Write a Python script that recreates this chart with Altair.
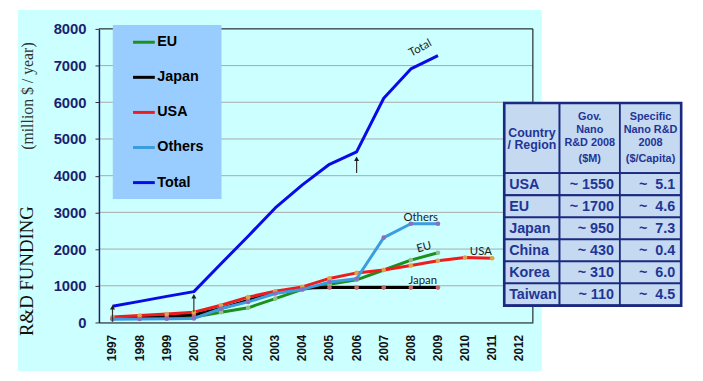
import altair as alt
import pandas as pd

# ---------------- data ----------------
years = [str(y) for y in range(1997, 2013)]
series_names = ["EU", "Japan", "USA", "Others", "Total"]
eu_vals = [110, 120, 130, 150, 280, 400, 650, 900, 1040, 1160, 1430, 1700, 1900]
japan_vals = [120, 140, 160, 210, 380, 600, 820, 940, 950, 950, 950, 950, 950]
usa_vals = [150, 190, 230, 280, 470, 690, 850, 970, 1200, 1350, 1430, 1550, 1680, 1770, 1750]
others_vals = [90, 95, 100, 110, 380, 560, 790, 900, 1100, 1190, 2310, 2690, 2690]
total_vals = [440, 575, 710, 840, 1600, 2350, 3120, 3750, 4310, 4650, 6110, 6910, 7270]
series_values = [eu_vals, japan_vals, usa_vals, others_vals, total_vals]

y_ticks = [0, 1000, 2000, 3000, 4000, 5000, 6000, 7000, 8000]

ann_text = ["Total", "Others", "EU", "USA", "Japan"]
ann_year = ["2008", "2008", "2008", "2010", "2008"]
ann_value = [7330, 2857, 1940, 1913, 1132]

arrow_year = ["1997", "2000", "2006"]
arrow_from = [20, 290, 4070]
arrow_to = [410, 715, 4460]

y_title_main = "R&D FUNDING"
y_title_unit = "(million $ / year)"

tbl_header = ["Country\n/ Region", "Gov.\nNano\nR&D 2008\n($M)", "Specific\nNano R&D\n2008\n($/Capita)"]
tbl_region = ["USA", "EU", "Japan", "China", "Korea", "Taiwan"]
tbl_gov = ["~ 1550", "~ 1700", "~ 950", "~ 430", "~ 310", "~ 110"]
tbl_capita = ["5.1", "4.6", "7.3", "0.4", "6.0", "4.5"]

# ---------------- style / layout ----------------
W, H = 439, 297
series_colors = ["#1c8f1c", "#000000", "#ee1c1c", "#3d9be0", "#0a0ae6"]
series_widths = [3, 3, 3, 3, 5.5]
marker_colors = ["#8fbf8f", "#cc6666", "#d9a74a", "#8a6fc0", None]
ann_dx = [11, 10, 14, 16, 12]
ann_angle = [332, 0, 345, 0, 0]
navy = "#1a1f71"
tbl_text = "#1f3596"
tbl_border = "#1b2a80"
tfont = "Liberation Sans"

x_scale = alt.Scale(domain=years)
y_scale = alt.Scale(domain=[0, 8000], nice=False, zero=True)
x_axis = alt.Axis(labelAngle=270, labelFont="Liberation Sans", labelFontWeight="bold",
                  labelFontSize=12, labelColor="#111111", labelPadding=12, ticks=False,
                  tickSize=0, domainColor="#000000", domainWidth=1, grid=False, zindex=1)
y_axis = alt.Axis(values=y_ticks, format="d", labelFont="Liberation Sans", labelFontWeight="bold",
                  labelFontSize=15, labelColor=navy, labelPadding=9, tickSize=4,
                  tickColor="#333333", domainColor=navy, domainWidth=1.5, grid=False, zindex=1)

X = lambda: alt.X("year:O", scale=x_scale, axis=x_axis, title=None)

legend = alt.Legend(orient="none", legendX=33, legendY=1, title=None, symbolType="stroke",
                    symbolSize=484, labelFont="Liberation Sans", labelFontWeight="bold",
                    labelFontSize=14.5, labelColor="#000000", rowPadding=16.5, labelOffset=1,
                    padding=0)

layers = []

# cyan background
one = pd.DataFrame({"k": [0]})
layers.append(alt.Chart(one).mark_rect(color="#ccffff").encode(
    x=alt.value(-82), x2=alt.value(448), y=alt.value(-19), y2=alt.value(346)))

# grid lines
grid_df = pd.DataFrame({"v": y_ticks[1:-1]})
layers.append(alt.Chart(grid_df).mark_rule(color="#a9a9a9", strokeWidth=1).encode(
    y=alt.Y("v:Q", scale=y_scale, axis=y_axis, title=None)))
top_df = pd.DataFrame({"v": [y_ticks[-1]]})
layers.append(alt.Chart(top_df).mark_rule(color="#000000", strokeWidth=1).encode(
    y=alt.Y("v:Q", scale=y_scale, axis=y_axis, title=None)))
# right frame
layers.append(alt.Chart(one).mark_rule(color="#000000", strokeWidth=1).encode(
    x=alt.value(W), y=alt.value(0), y2=alt.value(H)))

# legend box
layers.append(alt.Chart(one).mark_rect(color="#99ccff").encode(
    x=alt.value(14), x2=alt.value(124), y=alt.value(-4), y2=alt.value(172)))

# series
for name, vals, mc in zip(series_names, series_values, marker_colors):
    df = pd.DataFrame({"year": years[:len(vals)], "value": vals, "series": name})
    layers.append(alt.Chart(df).mark_line(strokeJoin="round").encode(
        x=X(),
        y=alt.Y("value:Q", scale=y_scale, axis=y_axis, title=None),
        color=alt.Color("series:N", scale=alt.Scale(domain=series_names, range=series_colors), legend=legend),
        strokeWidth=alt.StrokeWidth("series:N", scale=alt.Scale(domain=series_names, range=series_widths), legend=legend),
    ))
    if mc:
        layers.append(alt.Chart(df).mark_point(filled=True, shape="circle", size=22, color=mc, opacity=1).encode(
            x=X(), y=alt.Y("value:Q", scale=y_scale, axis=y_axis, title=None)))

# arrows
arr_df = pd.DataFrame({"year": arrow_year, "from": arrow_from, "to": arrow_to})
layers.append(alt.Chart(arr_df).mark_rule(color="#333333", strokeWidth=1.2).encode(
    x=X(), y=alt.Y("from:Q", scale=y_scale, axis=y_axis, title=None), y2="to:Q"))
layers.append(alt.Chart(arr_df).mark_point(shape="triangle-up", filled=True, size=26, color="#222222", opacity=1).encode(
    x=X(), y=alt.Y("to:Q", scale=y_scale, axis=y_axis, title=None)))

# annotations
for t, yr, v, dx, ang in zip(ann_text, ann_year, ann_value, ann_dx, ann_angle):
    adf = pd.DataFrame({"year": [yr], "value": [v], "label": [t]})
    layers.append(alt.Chart(adf).mark_text(font="Lato", fontSize=11.5, color="#1a1a1a", dx=dx, angle=ang).encode(
        x=X(), y=alt.Y("value:Q", scale=y_scale, axis=y_axis, title=None), text="label:N"))

# y titles
layers.append(alt.Chart(pd.DataFrame({"t": [y_title_main]})).mark_text(
    font="Liberation Serif", fontSize=19, color="#111111", angle=270, baseline="middle", align="center").encode(
    x=alt.value(-73), y=alt.value(245), text="t:N"))
layers.append(alt.Chart(pd.DataFrame({"t": [y_title_unit]})).mark_text(
    font="Liberation Serif", fontSize=16, color="#333333", angle=270, baseline="middle", align="center").encode(
    x=alt.value(-72), y=alt.value(68), text="t:N"))

main = alt.layer(*layers)

# ---------------- table ----------------
col_edges = [0, 56, 117, 179]
header_h = 71
row_h = 22.3
row_edges = [0, header_h] + [header_h + row_h * (i + 1) for i in range(len(tbl_region))]
header_line_y = {2: [30, 43], 4: [14, 27, 40, 57]}

tx = alt.Scale(domain=[0, 179], range=[410, 589], nice=False, zero=False)
ty = alt.Scale(domain=[0, 205], range=[75, 280], nice=False, zero=False)

cells = []
for j in range(3):
    for r in range(len(row_edges) - 1):
        cells.append({"x0": col_edges[j], "x1": col_edges[j + 1], "y0": row_edges[r], "y1": row_edges[r + 1]})
cells_df = pd.DataFrame(cells)

t_layers = []
t_layers.append(alt.Chart(cells_df).mark_rect(fill="#c5d9f1", stroke=tbl_border, strokeWidth=1.8).encode(
    x=alt.X("x0:Q", scale=tx, axis=None), x2="x1:Q",
    y=alt.Y("y0:Q", scale=ty, axis=None), y2="y1:Q"))
outer_df = pd.DataFrame({"x0": [0], "x1": [179], "y0": [0], "y1": [205]})
t_layers.append(alt.Chart(outer_df).mark_rect(filled=False, stroke=tbl_border, strokeWidth=2.6).encode(
    x=alt.X("x0:Q", scale=tx, axis=None), x2="x1:Q",
    y=alt.Y("y0:Q", scale=ty, axis=None), y2="y1:Q"))

hdr = []
for j, h in enumerate(tbl_header):
    lines = h.split("\n")
    for ln, yy in zip(lines, header_line_y[len(lines)]):
        hdr.append({"x": (col_edges[j] + col_edges[j + 1]) / 2, "y": yy, "t": ln, "fs": 12.5 if j == 0 else 11})
hdr_df = pd.DataFrame(hdr)
t_layers.append(alt.Chart(hdr_df).mark_text(font=tfont, fontWeight="bold", color=tbl_text, align="center", baseline="middle").encode(
    x=alt.X("x:Q", scale=tx, axis=None), y=alt.Y("y:Q", scale=ty, axis=None), text="t:N",
    size=alt.Size("fs:Q", scale=None)))

body_y = [header_h + row_h * (i + 0.5) + 0.5 for i in range(len(tbl_region))]
reg_df = pd.DataFrame({"x": [5] * len(tbl_region), "y": body_y, "t": tbl_region})
gov_df = pd.DataFrame({"x": [111] * len(tbl_gov), "y": body_y, "t": tbl_gov})
cap_df = pd.DataFrame({"x": [173] * len(tbl_capita), "y": body_y,
                       "t": ["~\u00a0\u00a0" + c for c in tbl_capita]})
for d, al in [(reg_df, "left"), (gov_df, "right"), (cap_df, "right")]:
    t_layers.append(alt.Chart(d).mark_text(font=tfont, fontWeight="bold", fontSize=14.5, color=tbl_text, align=al, baseline="middle").encode(
        x=alt.X("x:Q", scale=tx, axis=None), y=alt.Y("y:Q", scale=ty, axis=None), text="t:N"))

table = alt.layer(*t_layers)

chart = alt.layer(main, table).resolve_scale(x="independent", y="independent").properties(
    width=W, height=H,
    padding={"left": 92, "top": 19, "right": 164, "bottom": 49},
    autosize=alt.AutoSizeParams(type="none"),
    background="#ffffff",
).configure_view(stroke=None)

chart.save("out.html", embed_options={"renderer": "svg", "actions": False})
